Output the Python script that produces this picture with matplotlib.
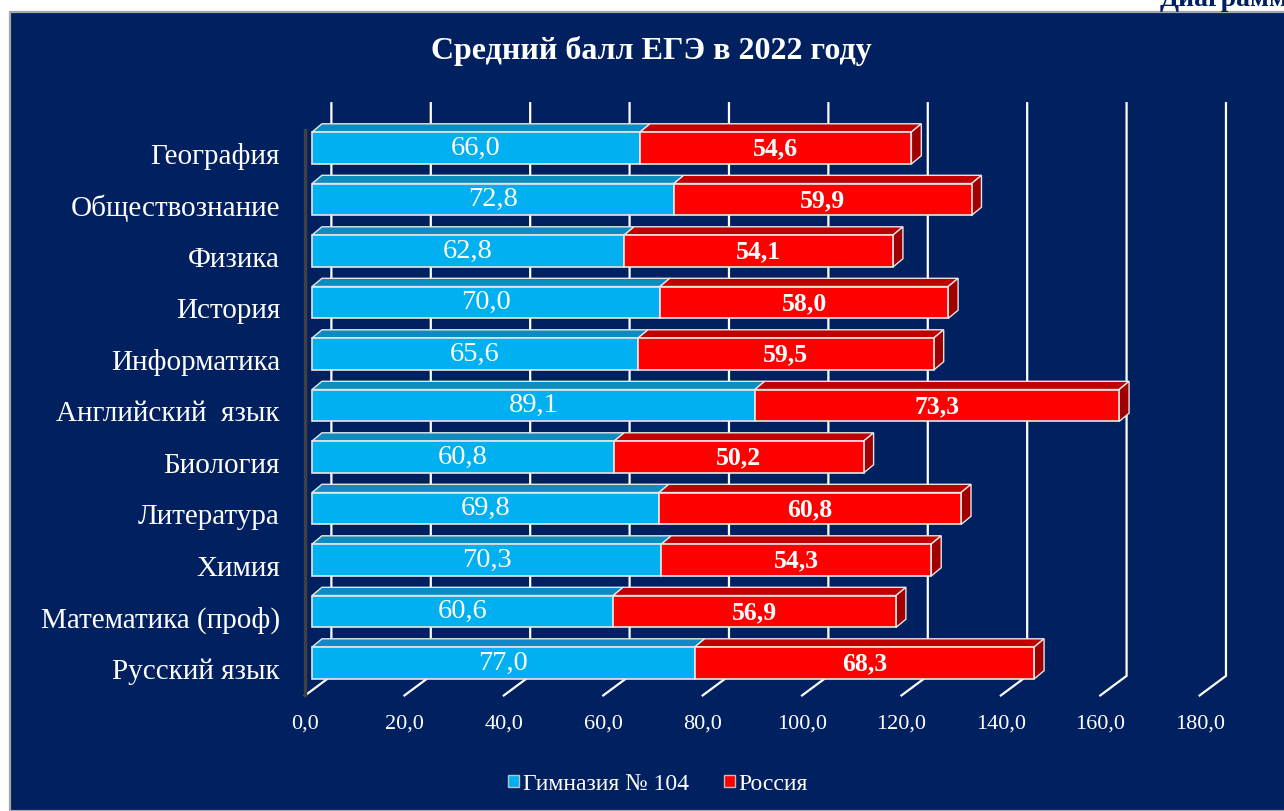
import matplotlib.pyplot as plt
from matplotlib.patches import Polygon, Rectangle
import numpy as np

plt.rcParams['font.family'] = ['Liberation Serif', 'DejaVu Serif']

SUBJECTS = [
    'Русский язык', 'Математика (проф)', 'Химия', 'Литература', 'Биология',
    'Английский  язык', 'Информатика', 'История', 'Физика', 'Обществознание',
    'География',
]
GYMNASIUM = [77.0, 60.6, 70.3, 69.8, 60.8, 89.1, 65.6, 70.0, 62.8, 72.8, 66.0]
RUSSIA = [68.3, 56.9, 54.3, 60.8, 50.2, 73.3, 59.5, 58.0, 54.1, 59.9, 54.6]
X_TICKS = [0, 20, 40, 60, 80, 100, 120, 140, 160, 180]
SERIES = ['Гимназия № 104', 'Россия']
TITLE = 'Средний балл ЕГЭ в 2022 году'

NAVY = '#002060'
BLUE, BLUE_TOP = '#00b0f0', '#0d8cc0'
RED, RED_TOP, RED_SIDE = '#ff0000', '#c00000', '#a00000'
EDGE = '#e6e6e6'

W, H = 1284, 811
PX0, PX_PER = 312, 4.97       # pixel of value 0 on bar front, pixels per unit
PY0, PY_PER = 663, 51.5       # pixel row centre of first category, pixels per row

# 3d offsets in data units
BAR_H = 0.62
DX, DY = 2.0, 0.16
BACK_DX, FRONT_DX = 3.9, -1.4
BACK_Y0, FRONT_Y0, BACK_TOP = -0.25, -0.63, 10.87


def px_to_fig(x0, y0, x1, y1):
    return [x0 / W, 1 - y1 / H, (x1 - x0) / W, (y1 - y0) / H]


def main():
    fig = plt.figure(figsize=(W / 100, H / 100), dpi=100, facecolor='white')
    fig.patches.append(Rectangle((10 / W, 0), 1 - 10 / W + 0.01, 1 - 12 / H,
                                 transform=fig.transFigure, facecolor=NAVY,
                                 edgecolor='#a6a6a6', linewidth=1.6,
                                 zorder=-5))

    ax_l, ax_r, ax_t, ax_b = 290, 1250, 95, 705
    ax = fig.add_axes(px_to_fig(ax_l, ax_t, ax_r, ax_b))
    ax.set_zorder(2)
    ax.set_xlim((ax_l - PX0) / PX_PER, (ax_r - PX0) / PX_PER)
    ax.set_ylim((PY0 - ax_b) / PY_PER, (PY0 - ax_t) / PY_PER)
    ax.axis('off')

    # gridlines: back wall verticals + floor diagonals
    for v in X_TICKS:
        ax.plot([v + BACK_DX, v + BACK_DX, v + FRONT_DX],
                [BACK_TOP, BACK_Y0, FRONT_Y0],
                color='white', lw=1.6, zorder=1, solid_joinstyle='miter')
        ax.text(v + FRONT_DX, -1.19, f'{v:.1f}'.replace('.', ','),
                color='white', fontsize=16, ha='center', va='center')

    # left wall edge
    ax.plot([FRONT_DX, FRONT_DX], [FRONT_Y0, 10.35], color='#404040', lw=2.5,
            zorder=1)

    y = np.arange(len(SUBJECTS))
    ax.barh(y, GYMNASIUM, height=BAR_H, color=BLUE, edgecolor=EDGE, lw=1.2,
            zorder=3)
    ax.barh(y, RUSSIA, left=GYMNASIUM, height=BAR_H, color=RED,
            edgecolor=EDGE, lw=1.2, zorder=3)

    for yi, g, r in zip(y, GYMNASIUM, RUSSIA):
        top = yi + BAR_H / 2
        bot = yi - BAR_H / 2
        for left, right, col in ((0, g, BLUE_TOP), (g, g + r, RED_TOP)):
            ax.add_patch(Polygon([(left, top), (left + DX, top + DY),
                                  (right + DX, top + DY), (right, top)],
                                 closed=True, facecolor=col, edgecolor=EDGE,
                                 lw=1.0, zorder=2.5))
        end = g + r
        ax.add_patch(Polygon([(end, bot), (end + DX, bot + DY),
                              (end + DX, top + DY), (end, top)],
                             closed=True, facecolor=RED_SIDE, edgecolor=EDGE,
                             lw=1.0, zorder=2.5))
        ax.text(g / 2, yi, f'{g:.1f}'.replace('.', ','), color='white',
                fontsize=20.5, ha='center', va='center', zorder=4)
        ax.text(g + r / 2, yi - 0.02, f'{r:.1f}'.replace('.', ','),
                color='white', fontsize=18.5, fontweight='bold', ha='center',
                va='center', zorder=4)
        ax.text((280 - PX0) / PX_PER, yi - 0.17, SUBJECTS[yi], color='white',
                fontsize=21, ha='right', va='center')

    fig.text(651 / W, 1 - 51 / H, TITLE, color='white', fontsize=23,
             fontweight='bold', ha='center', va='center')

    handles = [Rectangle((0, 0), 1, 1, facecolor=BLUE, edgecolor='#bfbfbf'),
               Rectangle((0, 0), 1, 1, facecolor=RED, edgecolor='#bfbfbf')]
    leg = fig.legend(handles, SERIES, loc='center', ncol=2,
                     bbox_to_anchor=(658 / W, 1 - 784 / H), frameon=False,
                     fontsize=17, handlelength=0.45, handleheight=0.45,
                     handletextpad=0.15, columnspacing=1.5)
    for t in leg.get_texts():
        t.set_color('white')

    fig.text(1160 / W, 1 - 6 / H, 'Диаграмма', color=NAVY, fontsize=20,
             fontweight='bold', ha='left', va='baseline')

    fig.savefig('out.png', dpi=100, facecolor='white')


if __name__ == '__main__':
    main()
